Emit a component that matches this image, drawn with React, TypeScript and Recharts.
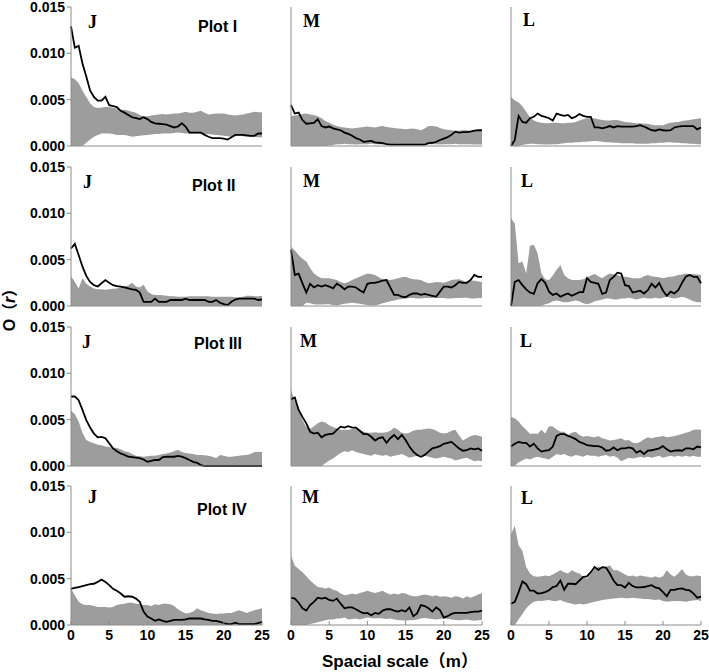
import { ComposedChart, Area, Line, XAxis, YAxis } from "recharts";

// O(r) values are kept in units of 0.001 (so 4.2 means 0.0042)
const SCALE = [
  0, 0.5, 1, 1.5, 2, 2.5, 3, 3.5, 4, 4.5, 5, 5.5, 6, 6.5, 7, 7.5, 8, 8.5, 9, 9.5, 10, 10.5, 11, 11.5, 12,
  12.5, 13, 13.5, 14, 14.5, 15, 15.5, 16, 16.5, 17, 17.5, 18, 18.5, 19, 19.5, 20, 20.5, 21, 21.5, 22, 22.5,
  23, 23.5, 24, 24.5, 25,
];
const X_TICKS = [0, 5, 10, 15, 20, 25];
const Y_TICKS = [0, 5, 10, 15];
const ROW_NAMES = ["Plot I", "Plot II", "Plot III", "Plot IV"];
const CLASS_NAMES = ["J", "M", "L"];

const FLOOR = [
  0, 0, 0, 0, 0, 0, 0, 0, 0, 0, 0, 0, 0, 0, 0, 0, 0, 0, 0, 0, 0, 0, 0, 0, 0, 0, 0, 0, 0, 0, 0, 0, 0, 0, 0, 0, 0,
  0, 0, 0, 0, 0, 0, 0, 0, 0, 0, 0, 0, 0, 0,
];

// Plot I
const P1_J_OBS = [12.9, 10.6, 10.8, 8.9, 7.5, 6.0, 5.3, 4.9, 4.9, 5.3, 4.4, 4.3, 4.2, 3.8, 3.6, 3.35, 3.1, 3.0, 2.9, 3.1, 2.9, 2.6, 2.45, 2.4, 2.35, 2.3, 2.15, 2.0, 2.1, 2.45, 2.1, 1.45, 1.45, 1.45, 1.45, 1.2, 1.0, 0.85, 0.85, 0.85, 0.8, 0.7, 0.95, 1.2, 1.2, 1.2, 1.15, 1.1, 1.1, 1.35, 1.35];
const P1_J_HI = [7.4, 7.2, 6.8, 6.0, 5.3, 4.6, 4.2, 4.1, 4.15, 4.2, 4.2, 4.1, 4.05, 3.9, 3.9, 3.8, 3.7, 3.6, 3.35, 3.2, 3.2, 3.3, 3.35, 3.4, 3.45, 3.4, 3.45, 3.5, 3.5, 3.6, 3.7, 3.6, 3.6, 3.7, 3.8, 3.6, 3.4, 3.45, 3.5, 3.5, 3.5, 3.4, 3.35, 3.3, 3.35, 3.4, 3.5, 3.6, 3.7, 3.65, 3.65];
const P1_J_LO = [0, 0, 0, 0, 0.35, 0.7, 1.0, 1.2, 1.35, 1.35, 1.35, 1.3, 1.2, 1.2, 1.2, 1.1, 1.0, 1.05, 1.1, 1.15, 1.2, 1.25, 1.3, 1.3, 1.35, 1.35, 1.35, 1.4, 1.45, 1.4, 1.35, 1.35, 1.35, 1.35, 1.35, 1.3, 1.3, 1.25, 1.2, 1.15, 1.1, 1.05, 1.0, 1.05, 1.1, 1.05, 1.0, 1.0, 1.0, 0.95, 0.95];

const P1_M_OBS = [4.4, 3.5, 3.6, 2.8, 2.4, 2.45, 2.5, 2.9, 2.15, 2.0, 2.1, 1.9, 1.8, 1.7, 1.45, 1.3, 1.1, 0.85, 0.7, 0.45, 0.5, 0.55, 0.4, 0.35, 0.3, 0.2, 0.15, 0.15, 0.15, 0.15, 0.15, 0.15, 0.15, 0.15, 0.15, 0.15, 0.3, 0.35, 0.45, 0.65, 0.8, 0.95, 1.2, 1.55, 1.45, 1.5, 1.5, 1.55, 1.65, 1.7, 1.7];
const P1_M_HI = [3.2, 3.3, 3.35, 3.45, 3.5, 3.4, 3.35, 3.2, 3.0, 2.7, 2.5, 2.3, 2.15, 2.05, 2.0, 1.95, 1.9, 1.95, 2.0, 2.05, 2.1, 2.05, 2.0, 2.1, 2.15, 2.05, 2.0, 1.95, 1.9, 1.85, 1.8, 1.85, 1.9, 1.8, 1.7, 1.9, 2.15, 2.15, 2.1, 1.95, 1.8, 1.75, 1.7, 1.65, 1.65, 1.7, 1.7, 1.65, 1.65, 1.65, 1.65];
const P1_M_LO = [0, 0, 0, 0, 0, 0, 0, 0, 0, 0, 0.05, 0.1, 0.2, 0.2, 0.25, 0.2, 0.2, 0.15, 0.2, 0.2, 0.2, 0.25, 0.2, 0.2, 0.15, 0.2, 0.2, 0.2, 0.25, 0.2, 0.2, 0.2, 0.15, 0.2, 0.2, 0.25, 0.2, 0.2, 0.2, 0.15, 0.2, 0.2, 0.2, 0.25, 0.2, 0.2, 0.2, 0.2, 0.15, 0.15, 0.15];

const P1_L_OBS = [0, 0.65, 3.25, 2.6, 2.5, 3.0, 3.15, 3.5, 3.25, 3.15, 3.0, 2.75, 3.5, 3.35, 3.25, 3.35, 3.0, 3.15, 3.45, 3.25, 3.15, 3.15, 2.0, 2.0, 1.9, 2.0, 2.15, 2.0, 2.15, 2.1, 2.1, 2.1, 2.1, 2.15, 2.25, 2.1, 1.9, 1.7, 1.65, 1.8, 1.7, 1.65, 1.7, 2.0, 2.1, 2.15, 2.15, 2.15, 2.15, 1.8, 2.0];
const P1_L_HI = [5.3, 4.9, 4.7, 4.3, 3.7, 3.1, 2.75, 2.6, 2.5, 2.45, 2.45, 2.5, 2.5, 2.45, 2.45, 2.5, 2.5, 2.6, 2.75, 2.9, 3.0, 3.0, 3.0, 2.9, 2.8, 2.75, 2.75, 2.8, 2.8, 2.7, 2.6, 2.55, 2.5, 2.45, 2.45, 2.4, 2.4, 2.3, 2.25, 2.25, 2.25, 2.4, 2.5, 2.55, 2.6, 2.7, 2.75, 2.8, 2.9, 2.95, 3.0];
const P1_L_LO = [0, 0, 0, 0.1, 0.2, 0.25, 0.25, 0.2, 0.2, 0.15, 0.15, 0.2, 0.2, 0.25, 0.3, 0.35, 0.35, 0.4, 0.4, 0.45, 0.45, 0.5, 0.55, 0.5, 0.45, 0.4, 0.4, 0.35, 0.35, 0.3, 0.3, 0.3, 0.3, 0.25, 0.25, 0.25, 0.25, 0.3, 0.3, 0.35, 0.35, 0.4, 0.4, 0.35, 0.35, 0.3, 0.3, 0.25, 0.25, 0.2, 0.2];

// Plot II
const P2_J_OBS = [6.2, 6.7, 5.5, 4.25, 3.25, 2.6, 2.25, 2.1, 2.45, 2.8, 2.5, 2.25, 2.15, 2.1, 2.0, 1.9, 1.8, 1.75, 1.45, 0.45, 0.45, 0.45, 0.8, 0.45, 0.45, 0.45, 0.65, 0.65, 0.65, 0.65, 0.8, 0.65, 0.65, 0.65, 0.65, 0.65, 0.45, 0.45, 0.65, 0.35, 0.2, 0.1, 0.45, 0.7, 0.8, 0.8, 0.8, 0.8, 0.8, 0.65, 0.7];
const P2_J_HI = [3.2, 2.6, 1.9, 3.0, 2.4, 2.1, 1.9, 1.8, 1.8, 1.75, 1.8, 1.85, 1.9, 2.0, 2.1, 2.2, 2.5, 2.1, 2.0, 2.3, 1.6, 1.3, 1.2, 1.2, 1.15, 1.1, 1.05, 1.05, 1.0, 1.0, 1.0, 1.05, 1.05, 1.05, 1.05, 1.05, 1.05, 1.0, 1.0, 1.0, 1.0, 1.0, 1.0, 0.95, 0.95, 1.0, 1.1, 1.1, 1.05, 1.05, 1.1];

const P2_M_OBS = [6.05, 3.35, 3.5, 2.45, 1.45, 2.4, 2.0, 2.25, 2.1, 2.25, 2.1, 1.9, 2.4, 2.15, 1.8, 2.1, 2.1, 2.0, 1.7, 1.45, 2.4, 2.5, 2.5, 2.6, 2.75, 2.8, 2.0, 1.2, 1.2, 1.0, 0.95, 1.2, 1.35, 1.35, 1.2, 1.3, 1.2, 1.1, 1.0, 1.55, 2.1, 2.1, 2.0, 2.25, 2.6, 2.5, 2.5, 2.8, 3.35, 3.15, 3.15];
const P2_M_HI = [6.4, 6.0, 5.5, 5.1, 4.8, 4.1, 3.5, 3.2, 3.0, 3.0, 3.0, 2.9, 2.8, 2.6, 2.45, 2.6, 2.8, 3.0, 3.15, 3.35, 3.5, 3.45, 3.35, 3.1, 2.9, 2.85, 2.8, 2.9, 3.0, 3.1, 3.15, 3.0, 2.9, 2.85, 2.8, 2.6, 2.45, 2.5, 2.6, 2.55, 2.5, 2.65, 2.8, 2.85, 2.9, 2.75, 2.6, 2.7, 2.75, 2.65, 2.6];
const P2_M_LO = [0, 0, 0, 0, 0.35, 0.3, 0.2, 0.15, 0.15, 0.2, 0.2, 0.1, 0.05, 0.15, 0.25, 0.3, 0.35, 0.3, 0.25, 0.15, 0.1, 0.05, 0.05, 0.15, 0.3, 0.4, 0.5, 0.6, 0.7, 0.75, 0.8, 0.85, 0.85, 0.8, 0.8, 0.85, 0.85, 0.9, 0.9, 0.85, 0.85, 0.8, 0.8, 0.85, 0.85, 0.9, 0.9, 0.8, 0.8, 0.85, 0.85];

const P2_L_OBS = [0, 2.6, 2.8, 2.25, 1.8, 1.45, 1.3, 2.45, 2.9, 2.5, 1.55, 1.2, 1.35, 1.0, 1.2, 1.35, 1.1, 1.3, 1.5, 1.5, 3.0, 2.6, 2.5, 2.4, 1.3, 1.45, 2.8, 3.15, 3.6, 3.5, 2.25, 2.15, 1.45, 1.55, 1.65, 1.35, 1.7, 2.4, 2.0, 2.5, 1.65, 1.1, 1.55, 1.35, 1.7, 2.5, 3.15, 3.35, 3.15, 3.15, 2.45];
const P2_L_HI = [9.45, 8.9, 4.6, 4.8, 3.5, 6.5, 6.6, 5.7, 3.5, 2.9, 2.8, 3.3, 3.9, 4.4, 3.35, 3.0, 2.8, 2.8, 2.8, 2.9, 3.1, 3.3, 3.45, 3.2, 3.0, 3.3, 3.5, 3.4, 3.35, 3.2, 3.15, 3.1, 3.0, 3.0, 3.0, 3.2, 3.35, 3.2, 3.15, 3.1, 3.0, 3.1, 3.15, 3.2, 3.35, 3.4, 3.5, 3.45, 3.45, 3.4, 3.35];
const P2_L_LO = [0, 0, 0, 0, 0, 0, 0, 0, 0, 0.2, 0.3, 0.5, 0.6, 0.5, 0.4, 0.4, 0.5, 0.6, 0.5, 0.3, 0.2, 0.3, 0.5, 0.6, 0.7, 0.8, 0.8, 0.7, 0.7, 0.8, 0.8, 0.9, 0.8, 0.7, 0.8, 0.9, 0.8, 0.8, 0.9, 0.8, 0.9, 1.0, 0.9, 0.8, 0.9, 1.0, 0.9, 0.7, 0.5, 0.4, 0.4];

// Plot III
const P3_J_OBS = [7.5, 7.5, 7.1, 6.05, 4.95, 4.15, 3.5, 3.1, 3.15, 3.0, 2.45, 1.9, 1.6, 1.35, 1.2, 1.0, 0.95, 0.9, 0.85, 0.7, 0.45, 0.55, 0.65, 0.65, 0.95, 1.0, 1.0, 1.0, 1.1, 1.0, 0.85, 0.65, 0.45, 0.35, 0.1, 0, 0, 0, 0, 0, 0, 0, 0, 0, 0, 0, 0, 0, 0, 0, 0];
const P3_J_HI = [5.95, 5.6, 4.8, 3.6, 2.8, 2.6, 2.45, 2.3, 2.25, 2.1, 2.05, 2.0, 1.95, 1.8, 1.6, 1.5, 1.3, 1.1, 1.05, 1.0, 1.05, 1.1, 1.1, 1.2, 1.3, 1.35, 1.45, 1.6, 1.75, 1.5, 1.4, 1.35, 1.3, 1.2, 1.2, 1.15, 1.1, 1.0, 0.85, 1.2, 1.1, 1.0, 1.0, 1.05, 1.1, 1.15, 1.2, 1.3, 1.5, 1.55, 1.5];

const P3_M_OBS = [7.2, 7.4, 6.05, 5.3, 4.6, 3.7, 3.5, 3.6, 3.1, 3.35, 3.45, 3.5, 3.9, 4.25, 4.15, 4.3, 4.15, 4.15, 3.8, 3.45, 3.45, 3.15, 2.75, 3.0, 3.1, 2.5, 3.0, 3.35, 2.9, 3.35, 2.8, 2.1, 1.55, 1.2, 1.0, 1.2, 1.55, 1.9, 2.0, 2.15, 2.4, 2.5, 2.6, 2.25, 1.9, 1.65, 1.7, 1.9, 1.8, 1.9, 1.65];
const P3_M_HI = [8.2, 7.0, 6.2, 5.0, 4.2, 4.0, 4.3, 4.6, 4.8, 4.7, 4.4, 4.2, 4.05, 3.9, 3.9, 3.9, 4.0, 4.05, 3.9, 3.7, 3.6, 3.6, 3.65, 3.6, 3.6, 3.65, 3.8, 4.15, 3.9, 3.6, 3.5, 3.6, 3.8, 3.9, 3.9, 4.0, 4.05, 4.0, 3.8, 3.6, 3.5, 3.6, 3.8, 3.9, 3.3, 2.75, 3.0, 3.2, 3.35, 3.3, 3.15];
const P3_M_LO = [0, 0, 0, 0, 0, 0, 0, 0, 0, 0.3, 0.6, 0.8, 1.1, 1.4, 1.6, 1.5, 1.7, 1.5, 1.4, 1.3, 1.2, 1.1, 1.3, 1.2, 1.1, 1.2, 1.0, 1.1, 1.2, 1.3, 1.1, 0.9, 1.0, 1.1, 1.2, 1.1, 1.0, 0.9, 0.8, 0.9, 1.0, 0.9, 0.8, 0.6, 0.7, 0.8, 0.9, 0.7, 0.5, 0.6, 0.5];

const P3_L_OBS = [2.1, 2.4, 2.6, 2.5, 2.5, 2.1, 2.4, 1.9, 1.55, 1.65, 1.7, 2.1, 3.25, 3.45, 3.45, 3.25, 3.1, 2.9, 2.6, 2.45, 2.25, 2.2, 2.15, 2.15, 2.0, 1.65, 1.7, 2.0, 1.7, 1.9, 1.9, 2.0, 1.9, 1.45, 1.65, 1.3, 1.65, 1.7, 1.8, 1.9, 2.15, 1.8, 1.55, 1.65, 1.7, 1.65, 1.9, 1.9, 1.8, 2.1, 2.0];
const P3_L_HI = [5.3, 5.15, 4.8, 4.3, 3.9, 3.45, 3.5, 3.45, 3.9, 3.5, 4.3, 4.25, 3.95, 3.7, 3.7, 3.35, 3.6, 3.7, 3.35, 3.15, 3.25, 3.15, 3.1, 3.25, 3.0, 2.9, 2.75, 2.8, 2.9, 3.0, 2.75, 2.8, 2.5, 2.45, 2.6, 2.9, 3.1, 3.0, 3.1, 3.15, 3.25, 3.1, 3.15, 3.25, 3.35, 3.45, 3.6, 3.7, 3.9, 3.95, 3.9];
const P3_L_LO = [0, 0, 0.4, 0.6, 0.8, 0.7, 0.9, 1.0, 0.9, 0.8, 0.7, 1.0, 1.3, 1.2, 1.3, 1.1, 1.0, 1.2, 1.1, 1.0, 1.2, 1.1, 1.1, 1.0, 1.1, 1.2, 1.0, 1.1, 0.9, 0.5, 0.7, 0.9, 0.8, 0.9, 1.0, 0.9, 1.0, 0.9, 1.0, 1.1, 0.9, 1.0, 1.1, 1.0, 1.1, 1.0, 1.1, 1.0, 1.1, 1.0, 1.0];

// Plot IV
const P4_J_OBS = [3.9, 4.0, 4.1, 4.2, 4.3, 4.4, 4.45, 4.65, 4.9, 4.65, 4.3, 3.9, 3.7, 3.4, 3.05, 3.1, 3.05, 2.85, 2.5, 1.45, 0.9, 0.7, 0.45, 0.6, 0.45, 0.35, 0.45, 0.55, 0.55, 0.55, 0.6, 0.7, 0.7, 0.7, 0.7, 0.6, 0.55, 0.45, 0.45, 0.35, 0.2, 0.1, 0.1, 0.25, 0.1, 0.1, 0.1, 0.1, 0.1, 0.2, 0.35];
const P4_J_HI = [3.9, 3.2, 2.5, 2.25, 2.15, 2.15, 2.05, 1.95, 1.95, 1.95, 1.9, 1.95, 2.15, 2.25, 2.3, 2.4, 2.4, 2.3, 2.25, 2.15, 2.15, 2.05, 2.25, 2.15, 2.3, 2.3, 2.25, 2.05, 1.7, 1.45, 1.25, 1.3, 1.45, 1.8, 1.6, 1.45, 1.3, 1.25, 1.2, 1.25, 1.25, 1.3, 1.3, 1.45, 1.6, 1.45, 1.3, 1.45, 1.6, 1.7, 1.8];

const P4_M_OBS = [2.95, 2.85, 2.4, 1.8, 1.55, 2.15, 2.5, 2.95, 2.85, 2.95, 2.7, 2.6, 2.85, 2.3, 1.8, 1.9, 1.9, 1.7, 1.45, 1.25, 1.3, 1.05, 1.3, 1.2, 1.55, 1.7, 1.7, 1.55, 1.45, 1.6, 1.45, 1.9, 0.95, 1.25, 2.15, 2.05, 1.8, 1.45, 1.9, 1.6, 0.8, 0.95, 1.2, 1.3, 1.3, 1.3, 1.3, 1.4, 1.45, 1.45, 1.55];
const P4_M_HI = [7.5, 6.4, 6.05, 5.7, 5.25, 4.8, 4.45, 4.1, 4.05, 3.95, 4.05, 3.8, 3.7, 3.4, 3.2, 3.3, 3.4, 3.3, 3.45, 3.55, 3.7, 3.55, 3.45, 3.55, 3.7, 3.45, 3.3, 3.4, 3.3, 3.45, 3.4, 3.2, 3.1, 3.1, 3.2, 3.3, 3.2, 3.1, 3.2, 3.05, 3.1, 3.05, 2.95, 3.1, 3.05, 2.85, 3.1, 2.95, 3.1, 3.3, 3.45];
const P4_M_LO = [0, 0, 0, 0, 0, 0.1, 0.2, 0.3, 0.4, 0.5, 0.6, 0.6, 0.7, 0.7, 0.8, 0.6, 0.65, 0.7, 0.6, 0.7, 0.8, 0.75, 0.7, 0.75, 0.7, 0.65, 0.7, 0.6, 0.55, 0.5, 0.45, 0.5, 0.55, 0.6, 0.7, 0.75, 0.7, 0.65, 0.6, 0.65, 0.7, 0.65, 0.6, 0.55, 0.5, 0.55, 0.6, 0.5, 0.45, 0.5, 0.55];

const P4_L_OBS = [2.3, 2.5, 3.55, 4.7, 4.4, 3.7, 3.7, 3.4, 3.45, 3.55, 3.75, 4.1, 4.2, 4.8, 3.8, 4.45, 4.45, 4.4, 4.8, 5.2, 5.25, 5.7, 6.25, 5.95, 6.25, 6.2, 5.55, 4.8, 4.3, 4.3, 4.05, 4.55, 4.2, 4.05, 4.05, 4.1, 4.2, 4.3, 4.05, 3.95, 3.55, 3.1, 3.8, 3.8, 3.9, 3.95, 3.8, 3.75, 3.4, 2.95, 3.05];
const P4_L_HI = [9.8, 10.7, 8.6, 8.0, 6.25, 5.55, 5.25, 5.2, 5.25, 5.35, 5.25, 5.45, 5.7, 5.9, 5.7, 5.55, 5.9, 5.7, 5.55, 5.2, 5.0, 5.55, 6.05, 6.25, 6.2, 6.25, 6.45, 5.9, 5.9, 5.7, 5.45, 5.25, 5.35, 5.2, 5.35, 5.25, 5.2, 5.1, 5.25, 5.1, 5.25, 5.9, 5.45, 5.2, 5.55, 6.05, 5.45, 5.25, 5.25, 5.35, 5.25];
const P4_L_LO = [0, 0, 0.6, 1.2, 1.8, 2.2, 2.5, 2.6, 2.6, 2.65, 2.7, 2.6, 2.6, 2.7, 2.5, 2.4, 2.3, 2.2, 2.3, 2.2, 2.3, 2.4, 2.5, 2.6, 2.7, 2.75, 2.8, 2.85, 2.9, 2.95, 2.9, 2.9, 2.95, 2.9, 2.85, 2.8, 2.8, 2.75, 2.7, 2.75, 2.6, 2.5, 2.55, 2.6, 2.6, 2.55, 2.5, 2.6, 2.65, 2.7, 2.6];

const GRID = [
  [
    { obs: P1_J_OBS, lo: P1_J_LO, hi: P1_J_HI },
    { obs: P1_M_OBS, lo: P1_M_LO, hi: P1_M_HI },
    { obs: P1_L_OBS, lo: P1_L_LO, hi: P1_L_HI },
  ],
  [
    { obs: P2_J_OBS, lo: FLOOR, hi: P2_J_HI },
    { obs: P2_M_OBS, lo: P2_M_LO, hi: P2_M_HI },
    { obs: P2_L_OBS, lo: P2_L_LO, hi: P2_L_HI },
  ],
  [
    { obs: P3_J_OBS, lo: FLOOR, hi: P3_J_HI },
    { obs: P3_M_OBS, lo: P3_M_LO, hi: P3_M_HI },
    { obs: P3_L_OBS, lo: P3_L_LO, hi: P3_L_HI },
  ],
  [
    { obs: P4_J_OBS, lo: FLOOR, hi: P4_J_HI },
    { obs: P4_M_OBS, lo: P4_M_LO, hi: P4_M_HI },
    { obs: P4_L_OBS, lo: P4_L_LO, hi: P4_L_HI },
  ],
];

// layout
const COL_LEFT = [71, 291, 511];
const COL_W = [191, 191, 190];
const ROW_TOP = [7, 167, 327, 486];
const PLOT_H = 139;
const Y_W = 50;
const X_H = 30;
const PAD = 12;

const SANS = "'Liberation Sans', Arial, 'Noto Sans CJK SC', sans-serif";
const SERIF = "'Liberation Serif', 'Times New Roman', serif";
const AXIS = "#8c8c8c";
const BAND = "#9d9d9d";

// letter offsets (x from plot left, baseline from plot top)
const LETTER_POS = [
  [[17, 21], [12, 20], [12, 19]],
  [[12, 21], [12, 20], [10, 20]],
  [[11, 21], [9, 20], [9, 20]],
  [[17, 17], [11, 17], [10, 18]],
];
const PLOT_NAME_POS = [
  [198, 32],
  [192, 191],
  [194, 349],
  [197, 515],
];

const XTick = (props: any) => {
  const { x, y, payload } = props;
  return (
    <text
      x={x}
      y={y}
      dy={17}
      textAnchor="middle"
      fontSize={14}
      fontWeight="bold"
      fontFamily={SANS}
      fill="#000"
    >
      {payload.value}
    </text>
  );
};

function Panel({ row, col }: { row: number; col: number }) {
  const s = GRID[row][col];
  const data = SCALE.map((x, i) => ({ x, obs: s.obs[i], band: [s.lo[i], s.hi[i]] }));
  const showX = row === 3;
  const showY = col === 0;
  return (
    <div style={{ position: "absolute", left: COL_LEFT[col] - Y_W, top: ROW_TOP[row] - PAD }}>
      <ComposedChart
        width={Y_W + COL_W[col] + PAD}
        height={PAD + PLOT_H + X_H}
        data={data}
        margin={{ top: PAD, right: PAD, bottom: 0, left: 0 }}
      >
        <XAxis
          dataKey="x"
          type="number"
          domain={[0, 25]}
          ticks={X_TICKS}
          interval={0}
          height={X_H}
          tickSize={-4}
          tickMargin={2}
          stroke={AXIS}
          tick={showX ? <XTick /> : false}
        />
        <YAxis
          type="number"
          domain={[0, 15]}
          ticks={Y_TICKS}
          interval={0}
          width={Y_W}
          tickSize={4}
          tickMargin={2}
          stroke={AXIS}
          tickFormatter={(v: number) => (v / 1000).toFixed(3)}
          tick={
            showY
              ? { fontSize: 14, fontWeight: "bold", fill: "#000", fontFamily: SANS }
              : false
          }
        />
        <Area
          dataKey="band"
          type="linear"
          stroke="none"
          fill={BAND}
          fillOpacity={1}
          isAnimationActive={false}
        />
        <Line
          dataKey="obs"
          type="linear"
          stroke="#000"
          strokeWidth={1.8}
          dot={false}
          isAnimationActive={false}
        />
      </ComposedChart>
    </div>
  );
}

export default function App() {
  return (
    <div
      style={{
        position: "absolute",
        left: 0,
        top: 0,
        width: 709,
        height: 672,
        background: "#fff",
        overflow: "hidden",
      }}
    >
      {ROW_TOP.map((_, r) => COL_LEFT.map((_, c) => <Panel key={`${r}-${c}`} row={r} col={c} />))}
      <svg
        width={709}
        height={672}
        style={{ position: "absolute", left: 0, top: 0, pointerEvents: "none" }}
      >
        {ROW_TOP.map((top, r) =>
          COL_LEFT.map((left, c) => (
            <text
              key={`l-${r}-${c}`}
              x={left + LETTER_POS[r][c][0]}
              y={top + LETTER_POS[r][c][1]}
              fontFamily={SERIF}
              fontWeight="bold"
              fontSize={18}
              fill="#000"
            >
              {CLASS_NAMES[c]}
            </text>
          ))
        )}
        {ROW_NAMES.map((name, r) => (
          <text
            key={name}
            x={PLOT_NAME_POS[r][0]}
            y={PLOT_NAME_POS[r][1]}
            fontFamily={SANS}
            fontWeight="bold"
            fontSize={16}
            fill="#000"
          >
            {name}
          </text>
        ))}
        <text
          x={15}
          y={306}
          transform="rotate(-90, 15, 306)"
          textAnchor="middle"
          fontFamily={SANS}
          fontWeight="bold"
          fontSize={16}
          fill="#000"
        >
          O（<tspan fontStyle="italic">r</tspan>）
        </text>
        <text x={322} y={667} fontFamily={SANS} fontWeight="bold" fontSize={17} fill="#000">
          Spacial scale（m）
        </text>
      </svg>
    </div>
  );
}
